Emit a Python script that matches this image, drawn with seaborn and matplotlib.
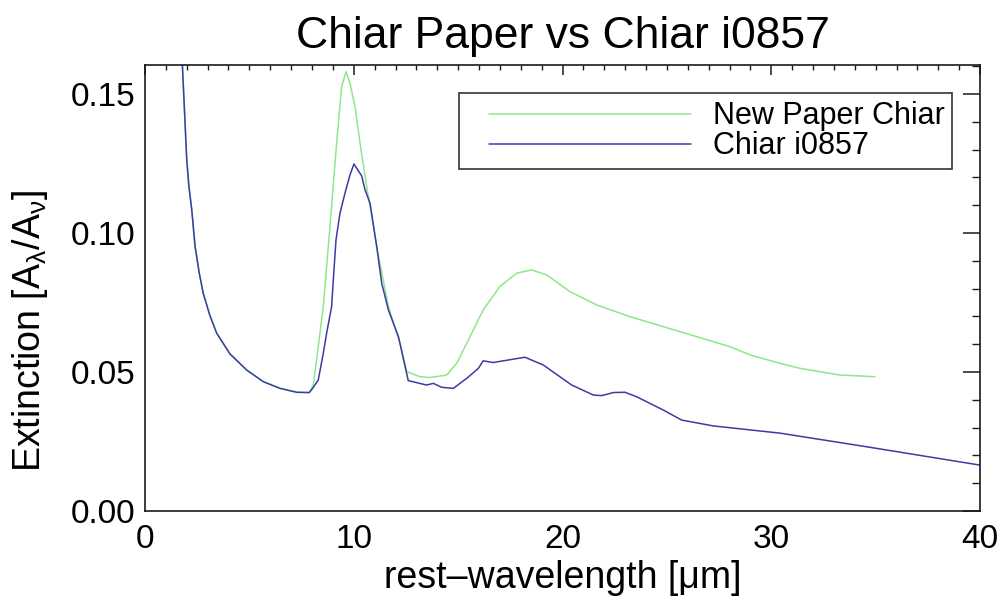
import numpy as np
import pandas as pd
import seaborn as sns
import matplotlib
matplotlib.use("Agg")
import matplotlib.pyplot as plt
from matplotlib.legend_handler import HandlerLine2D
from matplotlib.lines import Line2D
from matplotlib.ticker import MultipleLocator

# ---- data ----
title = "Chiar Paper vs Chiar i0857"
series_names = ["New Paper Chiar", "Chiar i0857"]

chiar_i0857_x = [1.6, 1.79, 2.0, 2.1, 2.24, 2.4, 2.6, 2.79, 3.1, 3.43, 4.07, 4.87, 5.67,
                 6.47, 7.27, 7.87, 8.03, 8.3, 8.54, 8.7, 8.94, 9.02, 9.15, 9.34, 9.58,
                 9.82, 10.01, 10.38, 10.54, 10.78, 11.1, 11.34, 11.66, 12.14, 12.61,
                 13.49, 13.81, 14.21, 14.77, 15.41, 15.97, 16.2, 16.68, 18.2, 19.08,
                 20.44, 21.48, 21.88, 22.44, 22.99, 23.55, 23.87, 24.83, 25.71, 27.22,
                 30.42, 34.57, 40.0]
chiar_i0857_y = [0.19, 0.1604, 0.1263, 0.117, 0.1083, 0.0951, 0.0855, 0.0783, 0.0705,
                 0.064, 0.0565, 0.0507, 0.0465, 0.0441, 0.0427, 0.0426, 0.0441, 0.0471,
                 0.0567, 0.0639, 0.0735, 0.0831, 0.0975, 0.1071, 0.1143, 0.1209, 0.1248,
                 0.1205, 0.1155, 0.1107, 0.0951, 0.0819, 0.0723, 0.0627, 0.0469, 0.0453,
                 0.0459, 0.0445, 0.0441, 0.0477, 0.0513, 0.054, 0.0534, 0.0553, 0.0525,
                 0.0453, 0.0417, 0.0415, 0.0426, 0.0427, 0.0411, 0.0399, 0.0363, 0.0327,
                 0.0306, 0.028, 0.0231, 0.0165]

paper_x = [1.6, 1.79, 2.0, 2.1, 2.24, 2.4, 2.6, 2.79, 3.1, 3.43, 4.07, 4.87, 5.67,
           6.47, 7.27, 7.87, 8.06, 8.22, 8.54, 8.86, 9.18, 9.42, 9.63, 9.82, 10.06,
           10.3, 10.62, 11.1, 11.66, 12.22, 12.54, 13.17, 13.65, 14.45, 14.93, 15.57,
           16.2, 17.0, 17.8, 18.52, 19.24, 20.36, 21.64, 23.23, 25.63, 28.02, 29.0,
           30.42, 31.38, 33.29, 34.97]
paper_y = [0.19, 0.1604, 0.1263, 0.117, 0.1083, 0.0951, 0.0855, 0.0783, 0.0705,
           0.064, 0.0565, 0.0507, 0.0465, 0.0441, 0.0427, 0.0426, 0.0453, 0.0543,
           0.0735, 0.1023, 0.1323, 0.1526, 0.158, 0.1538, 0.1454, 0.1323, 0.1167,
           0.0951, 0.0735, 0.0603, 0.0501, 0.0483, 0.048, 0.0489, 0.0531, 0.0627,
           0.0723, 0.0807, 0.0855, 0.0867, 0.0849, 0.0789, 0.0741, 0.0699, 0.0645,
           0.0591, 0.0561, 0.0531, 0.0513, 0.0489, 0.0483]

x_ticks = [0, 10, 20, 30, 40]
y_ticks = [0.00, 0.05, 0.10, 0.15]

colors = {"New Paper Chiar": "#8fe68b", "Chiar i0857": "#3b3ba6"}

df = pd.concat([
    pd.DataFrame({"wl": paper_x, "ext": paper_y, "series": series_names[0]}),
    pd.DataFrame({"wl": chiar_i0857_x, "ext": chiar_i0857_y, "series": series_names[1]}),
], ignore_index=True)

# ---- style ----
sns.set_theme(style="white")
plt.rcParams["font.family"] = ["Liberation Sans", "DejaVu Sans"]
plt.rcParams["mathtext.fontset"] = "custom"
plt.rcParams["mathtext.rm"] = "Liberation Sans"
plt.rcParams["mathtext.it"] = "Liberation Sans:italic"
plt.rcParams["mathtext.sf"] = "Liberation Sans"
plt.rcParams["text.color"] = "black"
plt.rcParams["axes.labelcolor"] = "black"

fig = plt.figure(figsize=(10.03, 6.03), dpi=100)
ax = fig.add_axes([145 / 1003, 1 - 511 / 603, (980 - 145) / 1003, (511 - 65) / 603])

sns.lineplot(data=df, x="wl", y="ext", hue="series", palette=colors,
             sort=False, estimator=None, linewidth=1.1, ax=ax, legend=False)

ax.set_xlim(0, 40)
ax.set_ylim(0, 0.1604)
ax.set_xticks(x_ticks)
ax.set_yticks(y_ticks)
ax.set_xticklabels([f"{v:d}" for v in x_ticks])
ax.set_yticklabels([f"{v:.2f}" for v in y_ticks])
ax.xaxis.set_minor_locator(MultipleLocator(1))
ax.yaxis.set_minor_locator(MultipleLocator(0.01))

for s in ax.spines.values():
    s.set_color("#1a1a1a")
    s.set_linewidth(1.2)

ax.tick_params(axis="both", which="both", direction="in", top=True, right=True,
               colors="#1a1a1a", labelcolor="black", labelsize=24)
ax.tick_params(axis="x", which="major", length=7, width=1.1, pad=9)
ax.tick_params(axis="x", which="minor", length=3.5, width=1.0)
ax.tick_params(axis="y", which="major", length=12, width=1.1, pad=7)
ax.tick_params(axis="y", which="minor", length=6, width=1.0)

ax.set_title(title, fontsize=32, pad=12.5, color="black")
ax.set_xlabel("rest\u2013wavelength [\u03bcm]", fontsize=27, labelpad=4)
ax.set_ylabel(r"Extinction [A$_\mathrm{\lambda}$/A$_\mathrm{\nu}$]", fontsize=27)
ax.yaxis.set_label_coords(-0.114, 0.405)


class PadLine(HandlerLine2D):
    def get_xdata(self, legend, xdescent, ydescent, width, height, fontsize):
        pad = 0.72 * fontsize
        x = np.array([-xdescent + pad, -xdescent + width])
        return x, x


handles = [Line2D([], [], color=colors[n], linewidth=1.1) for n in series_names]
leg = ax.legend(handles, series_names, loc="upper right",
                bbox_to_anchor=(0.967, 0.9365), borderaxespad=0, fontsize=22,
                frameon=True, fancybox=False, framealpha=1, edgecolor="#333333",
                handlelength=7.32, handletextpad=0.71, labelspacing=0.0,
                borderpad=0.26, handler_map={Line2D: PadLine()})
leg.get_frame().set_linewidth(1.2)

fig.savefig("out.png", dpi=100)
